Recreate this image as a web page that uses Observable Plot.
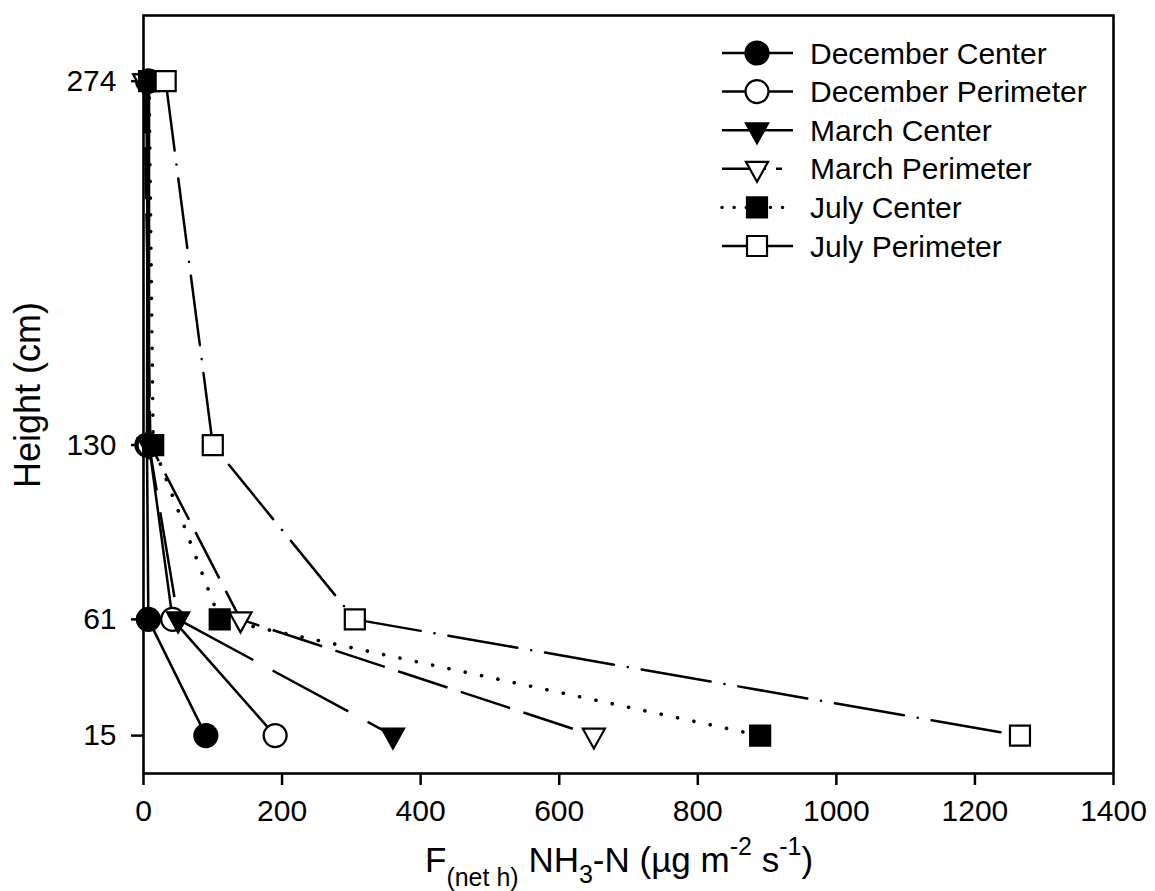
<!DOCTYPE html>
<html>
<head>
<meta charset="utf-8">
<script src="https://cdn.jsdelivr.net/npm/d3@7"></script>
<script src="https://cdn.jsdelivr.net/npm/@observablehq/plot@0.6"></script>
<style>
  body { margin: 0; background: #fff; }
  #chart { width: 1155px; height: 891px; }
</style>
</head>
<body>
<div id="chart"></div>
<script>
// Sampling heights (cm) and net NH3-N flux at each height, per month and position
const heights = [274, 130, 61, 15];
const seriesNames = ["December Center", "December Perimeter", "March Center", "March Perimeter", "July Center", "July Perimeter"];
const decemberCenter = [6, 5, 7, 90];
const decemberPerimeter = [8, 8, 42, 190];
const marchCenter = [4, 8, 50, 360];
const marchPerimeter = [1, 10, 140, 650];
const julyCenter = [8, 14, 110, 890];
const julyPerimeter = [32, 100, 305, 1265];
const xTicks = [0, 200, 400, 600, 800, 1000, 1200, 1400];
const yTicks = [15, 61, 130, 274];

const seriesValues = [decemberCenter, decemberPerimeter, marchCenter, marchPerimeter, julyCenter, julyPerimeter];

// Marker shapes (size is the area Plot passes in: r * r * PI)
const circleSym = {draw(ctx, size) { const r = Math.sqrt(size / Math.PI); ctx.moveTo(r, 0); ctx.arc(0, 0, r, 0, 2 * Math.PI); }};
const squareSym = {draw(ctx, size) { const h = Math.sqrt(size / Math.PI) * 0.87; ctx.rect(-h, -h, 2 * h, 2 * h); }};
const triDownSym = {draw(ctx, size) {
  const r = Math.sqrt(size / Math.PI);
  ctx.moveTo(-0.96 * r, -0.6 * r); ctx.lineTo(0.96 * r, -0.6 * r); ctx.lineTo(0, 1.13 * r); ctx.closePath();
}};

const styles = [
  {symbol: circleSym, filled: true, dash: null, legendDash: null, width: 2.5},
  {symbol: circleSym, filled: false, dash: null, legendDash: null, width: 2.5},
  {symbol: triDownSym, filled: true, dash: "86,22", legendDash: null, width: 2.5},
  {symbol: triDownSym, filled: false, dash: "52,14", legendDash: "44,10,6,40", width: 2.5},
  {symbol: squareSym, filled: true, dash: "0.1,16.6", legendDash: "0.1,12", width: 3.6},
  {symbol: squareSym, filled: false, dash: "70,14,0.1,14", legendDash: null, width: 2.5}
];

const series = seriesNames.map((name, i) => ({
  name,
  ...styles[i],
  rows: heights.map((h, j) => ({series: name, height: h, flux: seriesValues[i][j]}))
}));

const isDotted = d => d != null && d.includes("0.1");

const lineMarks = series.map(s => Plot.line(s.rows, {
  x: "flux", y: "height", stroke: "black", strokeWidth: s.width,
  strokeDasharray: s.dash, strokeLinecap: isDotted(s.dash) ? "round" : "butt"
}));
const dotMarks = series.map(s => Plot.dot(s.rows, {
  x: "flux", y: "height", symbol: s.symbol, r: 11.5,
  fill: s.filled ? "black" : "white", stroke: "black", strokeWidth: 2.2
}));

const svg = Plot.plot({
  width: 1155,
  height: 891,
  marginLeft: 143,
  marginRight: 42,
  marginTop: 15,
  marginBottom: 118,
  style: {fontFamily: "'Liberation Sans', Arial, sans-serif", fontSize: "30px", color: "black", background: "white"},
  x: {domain: [0, 1400]},
  y: {domain: [0, 300]},
  marks: [
    Plot.axisX(xTicks, {tickSize: 12, tickPadding: 14, tickFormat: d => String(d), strokeWidth: 2.5, label: null}),
    Plot.axisY(yTicks, {tickSize: 12, tickPadding: 15, tickFormat: d => String(d), strokeWidth: 2.5, label: null}),
    ...lineMarks,
    ...dotMarks,
    Plot.frame({stroke: "black", strokeWidth: 2.6})
  ]
});

const root = d3.select(svg);

// Axis titles
root.append("text")
  .attr("transform", "translate(40,395) rotate(-90)")
  .attr("text-anchor", "middle")
  .attr("font-size", 36)
  .attr("fill", "black")
  .text("Height (cm)");

const xt = root.append("text")
  .attr("x", 425).attr("y", 872)
  .attr("text-anchor", "start")
  .attr("font-size", 35)
  .attr("fill", "black");
xt.append("tspan").text("F");
xt.append("tspan").attr("font-size", 25).attr("dy", 14).text("(net h)");
xt.append("tspan").attr("dy", -14).text(" NH");
xt.append("tspan").attr("font-size", 25).attr("dy", 11).text("3");
xt.append("tspan").attr("dy", -11).text("-N (\u00b5g m");
xt.append("tspan").attr("font-size", 25).attr("dy", -17).text("-2");
xt.append("tspan").attr("dy", 17).text(" s");
xt.append("tspan").attr("font-size", 25).attr("dy", -17).text("-1");
xt.append("tspan").attr("dy", 17).text(")");

// Legend
const legend = root.append("g").attr("transform", "translate(722,53)");
series.forEach((s, i) => {
  const g = legend.append("g").attr("transform", `translate(0,${i * 38.6})`);
  g.append("line").attr("x1", 0).attr("x2", 71).attr("y1", 0).attr("y2", 0)
    .attr("stroke", "black").attr("stroke-width", isDotted(s.legendDash) ? 3.4 : 2.5)
    .attr("stroke-dasharray", s.legendDash)
    .attr("stroke-linecap", isDotted(s.legendDash) ? "round" : "butt");
  const p = d3.path();
  s.symbol.draw(p, 11.5 * 11.5 * Math.PI);
  g.append("path").attr("transform", "translate(35,0)").attr("d", p.toString())
    .attr("fill", s.filled ? "black" : "white").attr("stroke", "black").attr("stroke-width", 2.2);
  g.append("text").attr("x", 88).attr("y", 0).attr("dy", "0.35em")
    .attr("text-anchor", "start")
    .attr("font-size", 30).attr("fill", "black").text(s.name);
});

document.getElementById("chart").appendChild(svg);
</script>
</body>
</html>
